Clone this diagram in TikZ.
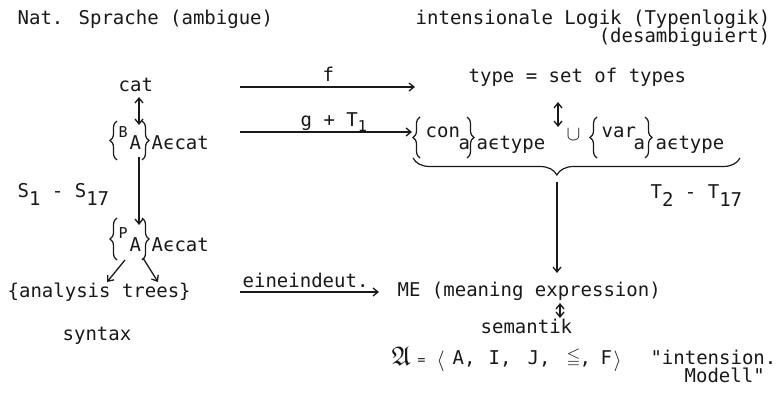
\documentclass[tikz,border=0pt]{standalone}
\usepackage{fontspec}
\usepackage{amssymb}
\usetikzlibrary{arrows.meta,decorations.pathreplacing}
\newfontfamily\tw{DejaVu Sans Mono}
\newcommand\twn{\tw\fontsize{19}{23}\selectfont}
\newcommand\tws{\tw\fontsize{15}{18}\selectfont}
\definecolor{ink}{RGB}{25,25,25}

\begin{document}
\begin{tikzpicture}[x=1pt,y=-1pt,line width=1.3pt,draw=ink,
  t/.style={font=\twn,inner sep=0pt,anchor=base west,text=ink},
  ts/.style={t,font=\tws},
  sym/.style={inner sep=0pt,anchor=base west,text=ink},
  arr/.style={-{Straight Barb[length=5pt,width=8pt]}},
  darr/.style={{Straight Barb[length=5pt,width=8pt]}-{Straight Barb[length=5pt,width=8pt]}},
  lbr/.style={decorate,decoration={brace,amplitude=7pt,aspect=0.5},line width=1.2pt},
  ubr/.style={decorate,decoration={brace,amplitude=17pt,aspect=0.56},line width=1.2pt}]
\fill[white] (0,0) rectangle (776,414);
\useasboundingbox (0,0) rectangle (776,414);

% headings
\node[t] (nat) at (17,25) {Nat. Sprache (ambigue)};
\node[t,anchor=base east] (il) at (771,25) {intensionale Logik (Typenlogik)};
\node[t,anchor=base east] (desamb) at (771,43) {(desambiguiert)};

% left column: syntax
\node[t] (cat) at (118,92) {cat};
\draw[lbr] (117,160) -- (117,121);
\node[ts] (Bsup) at (118,138) {B};
\node[t] (BA) at (129,150) {A};
\draw[lbr] (142,121) -- (142,160);
\node[t] (BAset) at (151,150) {Aϵcat};

\node[t] (S) at (17,197) {S\raisebox{-8pt}{1} - S\raisebox{-8pt}{17}};

\draw[lbr] (117,260) -- (117,218);
\node[ts] (Psup) at (118,238) {P};
\node[t] (PA) at (129,251) {A};
\draw[lbr] (142,218) -- (142,260);
\node[t] (PAset) at (151,251) {Aϵcat};

\node[t] (trees) at (7,297) {\{analysis trees\}};
\node[t] (syntax) at (62,340) {syntax};

\coordinate (c1) at (139,97);
\coordinate (c2) at (139,125);
\coordinate (c3) at (139,157);
\coordinate (c4) at (139,225);
\coordinate (c5) at (125,260);
\coordinate (c6) at (107,282);
\coordinate (c7) at (143,258);
\coordinate (c8) at (158,282);
\draw[darr] (c1) -- (c2);
\draw[arr] (c3) -- (c4);
\draw[arr] (c5) -- (c6);
\draw[arr] (c7) -- (c8);

% horizontal maps
\coordinate (f0) at (240,87);
\coordinate (f1) at (415,87);
\draw[arr] (f0) -- (f1);
\node[t] (flab) at (322,82) {f};

\coordinate (g0) at (240,132);
\coordinate (g1) at (412,132);
\draw[arr] (g0) -- (g1);
\node[t] (glab) at (300,127) {g + T\raisebox{-5pt}{\tws 1}};

\coordinate (e0) at (240,292);
\coordinate (e1) at (379,292);
\draw[arr] (e0) -- (e1);
\node[t] (elab) at (242,287) {eineindeut.};

% right column: semantics
\node[t] (type) at (468,83) {type = set of types};
\coordinate (d1) at (558,102);
\coordinate (d2) at (558,127);
\draw[darr] (d1) -- (d2);

\draw[lbr] (420,158) -- (420,117);
\node[t] (con) at (425,138) {con};
\node[t] (cona) at (458,150) {a};
\draw[lbr] (467,117) -- (467,158);
\node[t] (conset) at (476,150) {aϵtype};
\node[sym,font=\fontsize{21}{24}\selectfont] (cup) at (566,141) {$\cup$};
\draw[lbr] (597,158) -- (597,117);
\node[t] (var) at (601,138) {var};
\node[t] (vara) at (633,150) {a};
\draw[lbr] (645,117) -- (645,158);
\node[t] (varset) at (655,150) {aϵtype};

\draw[ubr] (740,158) -- (413,158);
\node[t] (T) at (650,199) {T\raisebox{-8pt}{2} - T\raisebox{-8pt}{17}};

\coordinate (u0) at (557,182);
\coordinate (u1) at (557,273);
\draw[arr] (u0) -- (u1);

\node[t] (ME) at (397,296) {ME (meaning expression)};
\coordinate (m1) at (560,303);
\coordinate (m2) at (560,318);
\draw[darr] (m1) -- (m2);
\node[t] (sem) at (480,333) {semantik};

% intensional model
\node[sym,font=\fontsize{27}{30}\selectfont] (frA) at (391,365) {$\mathfrak{A}$};
\node[sym,font=\tw\fontsize{13}{15}\selectfont] (eq) at (417,364) {=};
\node[sym,font=\fontsize{20}{24}\selectfont] (lang) at (436,366) {$\langle$};
\node[t] (mA) at (452,364) {A,};
\node[t] (mI) at (488,364) {I,};
\node[t] (mJ) at (527,364) {J,};
\node[sym,font=\fontsize{18}{21}\selectfont] (leq) at (566,362) {$\leqq$};
\node[t] (mcomma) at (579,364) {,};
\node[t] (mF) at (600,364) {F};
\node[sym,font=\fontsize{20}{24}\selectfont] (rang) at (613,366) {$\rangle$};
\node[t,anchor=base east] (int) at (777,364) {"intension.};
\node[t] (mod) at (684,382) {Modell"};
\end{tikzpicture}
\end{document}
